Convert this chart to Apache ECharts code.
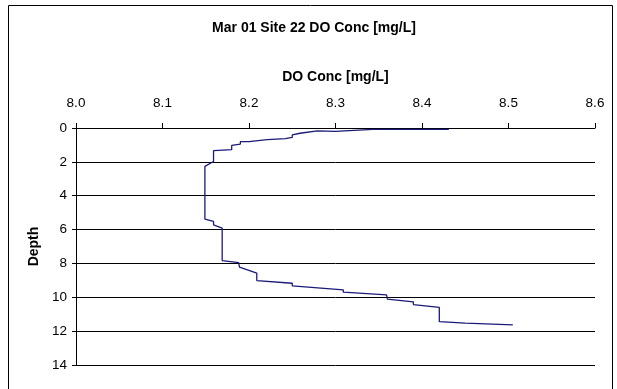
<!DOCTYPE html>
<html>
<head>
<meta charset="utf-8">
<script src="https://cdn.jsdelivr.net/npm/echarts@6/dist/echarts.min.js"></script>
<style>
  html, body { margin: 0; padding: 0; background: #fff; }
  #chart { width: 617px; height: 389px; }
</style>
</head>
<body>
<div id="chart"></div>
<script>
// Dissolved oxygen profile, Site 22, 1 March
var titleText = 'Mar 01 Site 22 DO Conc [mg/L]';
var xAxisName = 'DO Conc [mg/L]';
var yAxisName = 'Depth';

// DO concentration [mg/L] at each recorded point, surface to bottom
var doConc = [
  8.431, 8.343, 8.300, 8.279, 8.259, 8.250, 8.250, 8.242, 8.221, 8.200,
  8.190, 8.190, 8.180, 8.180, 8.159, 8.159, 8.149, 8.149, 8.159, 8.159,
  8.169, 8.169, 8.188, 8.189, 8.209, 8.209, 8.250, 8.250, 8.309, 8.309,
  8.359, 8.360, 8.390, 8.390, 8.420, 8.420, 8.450, 8.450, 8.505
];
// Depth [m] of each point
var depth = [
  0.08, 0.08, 0.20, 0.17, 0.31, 0.41, 0.56, 0.63, 0.69, 0.81,
  0.81, 0.95, 1.03, 1.28, 1.34, 1.98, 2.27, 5.38, 5.52, 5.72,
  5.91, 7.83, 7.95, 8.22, 8.57, 9.01, 9.17, 9.33, 9.56, 9.70,
  9.86, 10.11, 10.27, 10.43, 10.59, 11.44, 11.53, 11.63, 11.63
];

var xTicks = { min: 8.0, max: 8.6, step: 0.1 };
var yTicks = { min: 0, max: 14, step: 2 };

var points = doConc.map(function (v, i) { return [v, depth[i]]; });

var font = 'Liberation Sans, Arial, Helvetica, sans-serif';
var chart = echarts.init(document.getElementById('chart'), null, { renderer: 'canvas' });

chart.setOption({
  animation: false,
  backgroundColor: '#ffffff',
  textStyle: { fontFamily: font, color: '#000' },
  title: {
    text: titleText,
    left: 309,
    top: 16,
    textAlign: 'center',
    textStyle: { fontFamily: font, fontSize: 14, fontWeight: 'bold', color: '#000' }
  },
  graphic: [{
    type: 'rect',
    shape: { x: 8.5, y: 5.5, width: 604, height: 420 },
    style: { fill: 'none', stroke: '#000', lineWidth: 1 },
    silent: true
  }],
  grid: { left: 76, right: 22, top: 128, bottom: 24, containLabel: false },
  xAxis: {
    type: 'value',
    position: 'top',
    min: xTicks.min,
    max: xTicks.max,
    interval: xTicks.step,
    name: xAxisName,
    nameLocation: 'middle',
    nameGap: 44,
    nameTextStyle: { fontFamily: font, fontSize: 14, fontWeight: 'bold', color: '#000' },
    axisLine: { show: true, lineStyle: { color: '#000', width: 1 } },
    axisTick: { show: true, inside: false, length: 5, lineStyle: { color: '#000' } },
    axisLabel: {
      fontFamily: font, fontSize: 13.5, color: '#000', margin: 18,
      formatter: function (v) { return v.toFixed(1); }
    },
    splitLine: { show: false }
  },
  yAxis: {
    type: 'value',
    inverse: true,
    min: yTicks.min,
    max: yTicks.max,
    interval: yTicks.step,
    name: yAxisName,
    nameLocation: 'middle',
    nameGap: 27,
    nameRotate: 90,
    nameTextStyle: { fontFamily: font, fontSize: 14, fontWeight: 'bold', color: '#000' },
    axisLine: { show: true, lineStyle: { color: '#000', width: 1 } },
    axisTick: { show: true, inside: false, length: 4, lineStyle: { color: '#000' } },
    axisLabel: { fontFamily: font, fontSize: 13.5, color: '#000', margin: 9 },
    splitLine: { show: true, lineStyle: { color: '#000', width: 1 } }
  },
  series: [{
    type: 'line',
    data: points,
    showSymbol: false,
    symbol: 'none',
    lineStyle: { color: '#1a1a78', width: 1.3 },
    silent: true
  }]
});
</script>
</body>
</html>
